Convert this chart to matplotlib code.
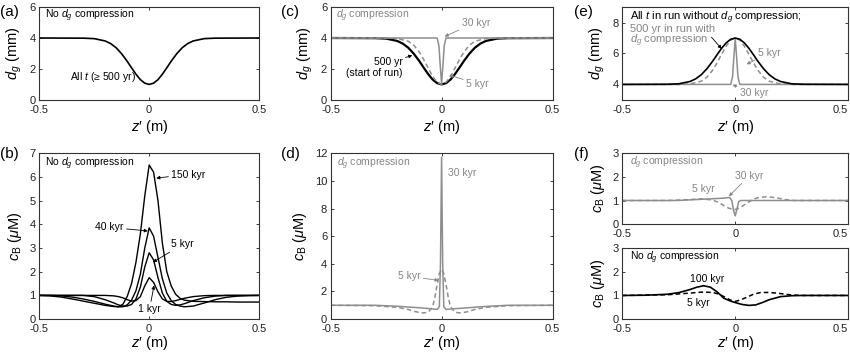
import matplotlib
matplotlib.use("Agg")
import matplotlib.pyplot as plt
import matplotlib.transforms as mtransforms

plt.rcParams['font.family'] = ['Liberation Sans', 'DejaVu Sans']
plt.rcParams['mathtext.fontset'] = 'custom'
plt.rcParams['mathtext.rm'] = 'Liberation Sans'
plt.rcParams['mathtext.it'] = 'Liberation Sans:italic'
plt.rcParams['mathtext.bf'] = 'Liberation Sans:bold'

# ---------------- data ----------------
# (a),(c): grain size profile at 500 yr (all t without compression)
z_dg = [-0.5, -0.3, -0.25, -0.2, -0.175, -0.15, -0.125, -0.1, -0.08, -0.06, -0.04, -0.02, 0.0,
        0.02, 0.04, 0.06, 0.08, 0.1, 0.125, 0.15, 0.175, 0.2, 0.25, 0.3, 0.5]
dg_500 = [4.0, 3.99, 3.96, 3.81, 3.64, 3.37, 2.98, 2.50, 2.07, 1.66, 1.31, 1.08, 1.0,
          1.08, 1.31, 1.66, 2.07, 2.50, 2.98, 3.37, 3.64, 3.81, 3.96, 3.99, 4.0]
# (c) 5 kyr with compression
z_dg5 = [-0.5, -0.25, -0.2, -0.15, -0.125, -0.1, -0.08, -0.06, -0.04, -0.02, 0.0,
         0.02, 0.04, 0.06, 0.08, 0.1, 0.125, 0.15, 0.2, 0.25, 0.5]
dg_5k = [4.0, 4.0, 3.97, 3.79, 3.53, 3.08, 2.59, 2.04, 1.52, 1.14, 1.0,
         1.14, 1.52, 2.04, 2.59, 3.08, 3.53, 3.79, 3.97, 4.0, 4.0]
# (c) 30 kyr with compression
z_dg30 = [-0.5, -0.02, -0.012, -0.006, 0.0, 0.006, 0.012, 0.02, 0.5]
dg_30k = [4.0, 4.0, 3.5, 2.2, 1.05, 2.2, 3.5, 4.0, 4.0]

# (e): profile with peak 7
e_500 = [4.0, 4.01, 4.04, 4.19, 4.36, 4.63, 5.02, 5.50, 5.93, 6.34, 6.69, 6.92, 7.0,
         6.92, 6.69, 6.34, 5.93, 5.50, 5.02, 4.63, 4.36, 4.19, 4.04, 4.01, 4.0]
e_5k = [4.0, 4.0, 4.03, 4.21, 4.47, 4.92, 5.41, 5.96, 6.48, 6.86, 7.0,
        6.86, 6.48, 5.96, 5.41, 4.92, 4.47, 4.21, 4.03, 4.0, 4.0]
e_30k = [4.0, 4.0, 4.5, 5.8, 6.95, 5.8, 4.5, 4.0, 4.0]

# (b): c_B without compression
z_b = [-0.5, -0.45, -0.4, -0.35, -0.3, -0.25, -0.2, -0.16, -0.14, -0.12, -0.1, -0.08, -0.06,
       -0.04, -0.02, 0.0, 0.02, 0.04, 0.06, 0.08, 0.1, 0.12, 0.14, 0.16, 0.2, 0.25, 0.3,
       0.35, 0.4, 0.45, 0.5]
cb_1k = [1.0, 1.0, 1.0, 1.0, 1.0, 1.0, 1.0, 0.98, 0.95, 0.9, 0.82, 0.76, 0.78,
         0.95, 1.4, 1.75, 1.55, 1.15, 0.85, 0.75, 0.74, 0.78, 0.83, 0.88, 0.95, 0.99, 1.0,
         1.0, 1.0, 1.0, 1.0]
cb_5k = [1.0, 1.0, 1.0, 1.0, 1.0, 0.95, 0.82, 0.68, 0.6, 0.55, 0.55, 0.62, 0.85,
         1.35, 2.2, 2.8, 2.5, 1.75, 1.1, 0.75, 0.62, 0.58, 0.6, 0.65, 0.78, 0.9, 0.97,
         1.0, 1.0, 1.0, 1.0]
cb_40k = [1.0, 1.0, 0.98, 0.93, 0.85, 0.75, 0.63, 0.55, 0.52, 0.52, 0.6, 0.8, 1.2,
          1.9, 3.0, 3.85, 3.5, 2.6, 1.7, 1.1, 0.78, 0.62, 0.55, 0.52, 0.55, 0.68, 0.82,
          0.92, 0.97, 0.99, 1.0]
cb_150k = [1.0, 0.98, 0.93, 0.85, 0.76, 0.67, 0.58, 0.53, 0.52, 0.62, 0.95, 1.5, 2.4,
           3.6, 5.2, 6.5, 6.2, 5.0, 3.2, 2.0, 1.4, 1.05, 0.88, 0.8, 0.75, 0.74, 0.73,
           0.73, 0.72, 0.72, 0.72]

# (d): c_B with compression
z_d30 = [-0.5, -0.3, -0.2, -0.1, -0.05, -0.02, -0.01, -0.005, 0.0, 0.005, 0.01, 0.02,
         0.05, 0.1, 0.2, 0.3, 0.5]
cd_30k = [1.0, 1.0, 0.93, 0.82, 0.75, 0.7, 0.9, 4.0, 11.7, 4.0, 0.9, 0.7,
          0.74, 0.8, 0.92, 1.0, 1.0]
z_d5 = [-0.5, -0.3, -0.2, -0.15, -0.12, -0.1, -0.08, -0.06, -0.04, -0.03, -0.02, -0.01, 0.0,
        0.01, 0.02, 0.03, 0.04, 0.06, 0.08, 0.1, 0.12, 0.15, 0.2, 0.3, 0.5]
cd_5k = [1.0, 0.97, 0.85, 0.7, 0.55, 0.48, 0.45, 0.5, 0.9, 1.6, 2.5, 3.3, 3.6,
         3.3, 2.5, 1.6, 0.9, 0.5, 0.45, 0.48, 0.55, 0.7, 0.85, 0.97, 1.0]

# (f) top: c_B with compression
z_f30 = [-0.5, -0.26, -0.15, -0.05, -0.025, -0.015, -0.008, 0.0, 0.008, 0.015, 0.025, 0.05, 0.5]
cf_30k = [1.0, 1.0, 1.05, 1.1, 1.13, 1.0, 0.6, 0.35, 0.65, 0.95, 1.0, 1.0, 1.0]
z_f5 = [-0.5, -0.3, -0.2, -0.15, -0.1, -0.07, -0.05, -0.03, -0.01, 0.0, 0.01, 0.03, 0.05,
        0.08, 0.1, 0.14, 0.18, 0.22, 0.26, 0.5]
cf_5k = [1.0, 1.0, 1.04, 1.07, 1.02, 0.9, 0.78, 0.68, 0.62, 0.62, 0.65, 0.75, 0.88,
         1.05, 1.12, 1.16, 1.12, 1.04, 1.0, 1.0]

# (f) bottom: no compression
z_g100 = [-0.5, -0.4, -0.3, -0.25, -0.2, -0.17, -0.14, -0.11, -0.08, -0.05, -0.02, 0.0,
          0.03, 0.06, 0.09, 0.12, 0.15, 0.2, 0.25, 0.3, 0.4, 0.5]
cg_100k = [1.0, 1.01, 1.05, 1.12, 1.25, 1.35, 1.41, 1.35, 1.15, 0.88, 0.76, 0.7,
           0.62, 0.58, 0.6, 0.7, 0.82, 0.95, 0.99, 1.0, 1.0, 1.0]
z_g5 = [-0.5, -0.3, -0.2, -0.15, -0.1, -0.07, -0.04, -0.02, 0.0, 0.02, 0.05, 0.08, 0.11,
        0.15, 0.2, 0.25, 0.3, 0.5]
cg_5k = [1.0, 1.03, 1.1, 1.14, 1.13, 1.05, 0.9, 0.8, 0.75, 0.8, 0.92, 1.05, 1.12,
         1.13, 1.08, 1.02, 1.0, 1.0]

xticks = [-0.5, 0, 0.5]
xticklabels = ['-0.5', '0', '0.5']

# ---------------- styling ----------------
GREY = '#8e8e8e'
GREYT = '#858585'
TFS = 7.5
LFS = 10.5
XL = "$z$\u2032 (m)"
YL_D = r"$d_g$ (mm)"
YL_C = r"$c_{\mathrm{B}}$ ($\mu$M)"

fig = plt.figure(figsize=(8.5, 3.53), dpi=100)


def style(ax, ylim, yticks, xlabel=True, lpad=0.0, edge=False):
    ax.set_xlim(-0.5, 0.5)
    ax.set_ylim(*ylim)
    ax.set_xticks(xticks)
    ax.set_xticklabels(xticklabels)
    ax.set_yticks(yticks)
    ax.set_yticklabels([str(t) for t in yticks])
    ax.tick_params(direction='in', length=2.5, width=0.6, labelsize=8, top=True, right=True,
                   colors='#222222')
    ax.tick_params(axis='x', pad=3.5)
    ax.tick_params(axis='y', pad=2.5)
    for s in ax.spines.values():
        s.set_linewidth(0.8)
        s.set_color('#333333')
    if edge:
        lab = ax.get_xticklabels()[-1]
        off = mtransforms.ScaledTranslation(-6 / 72, 0, fig.dpi_scale_trans)
        lab.set_transform(lab.get_transform() + off)
    if xlabel:
        ax.set_xlabel(XL, fontsize=LFS, labelpad=lpad)


def arrow(ax, text, xy, xytext, color='black', ha='left', va='center'):
    ax.annotate(text, xy=xy, xytext=xytext, fontsize=TFS, color=color, ha=ha, va=va,
                arrowprops=dict(arrowstyle='-|>', color=color, lw=0.6, mutation_scale=5,
                                shrinkA=0, shrinkB=0))


# (a)
ax = fig.add_axes([0.046, 0.717, 0.259, 0.263])
ax.plot(z_dg, dg_500, color='black', lw=1.2)
style(ax, (0, 6), [0, 2, 4, 6], lpad=2.5)
ax.set_ylabel(YL_D, fontsize=LFS, labelpad=4)
ax.text(-0.475, 5.45, r"No $d_g$ compression", fontsize=TFS, va='center')
ax.text(-0.36, 1.5, r"All $t$ (≥ 500 yr)", fontsize=TFS, va='center')
fig.text(0.0, 0.965, "(a)", fontsize=11, va='center')

# (c)
ax = fig.add_axes([0.389, 0.717, 0.261, 0.263])
ax.plot(z_dg, dg_500, color='black', lw=1.6)
ax.plot(z_dg5, dg_5k, color=GREY, lw=1.1, ls=(0, (3, 2)))
ax.plot(z_dg30, dg_30k, color=GREY, lw=1.1)
style(ax, (0, 6), [0, 2, 4, 6], lpad=2.5)
ax.set_ylabel(YL_D, fontsize=LFS, labelpad=4)
ax.text(-0.475, 5.45, r"$d_g$ compression", fontsize=TFS, va='center', color=GREYT)
arrow(ax, "30 kyr", (0.014, 4.1), (0.09, 5.0), color=GREYT)
arrow(ax, "500 yr\n(start of run)", (-0.132, 2.88), (-0.175, 2.1), ha='right', va='center')
arrow(ax, "5 kyr", (0.034, 1.6), (0.11, 1.05), color=GREYT)
fig.text(0.331, 0.965, "(c)", fontsize=11, va='center')

# (e)
ax = fig.add_axes([0.732, 0.717, 0.266, 0.263])
ax.plot(z_dg30, e_30k, color=GREY, lw=1.1)
ax.plot(z_dg5, e_5k, color=GREY, lw=1.1, ls=(0, (3, 2)))
ax.plot(z_dg, e_500, color='black', lw=1.2)
style(ax, (3, 9), [4, 6, 8], lpad=2.5, edge=True)
ax.set_ylabel(YL_D, fontsize=LFS, labelpad=4)
ax.text(-0.465, 8.3, r"All $t$ in run without $d_g$ compression;", fontsize=8,
        va='center')
ax.text(-0.465, 7.55, "500 yr in run with", fontsize=8, va='center', color=GREYT)
ax.text(-0.465, 6.8, r"$d_g$ compression", fontsize=8, va='center', color=GREYT)
ax.annotate("", xy=(-0.06, 6.3), xytext=(-0.105, 7.05),
            arrowprops=dict(arrowstyle='-|>', color='black', lw=0.6, mutation_scale=5,
                            shrinkA=0, shrinkB=0))
arrow(ax, "5 kyr", (0.05, 5.3), (0.1, 6.05), color=GREYT)
arrow(ax, "30 kyr", (-0.012, 3.98), (0.02, 3.45), color=GREYT)
fig.text(0.675, 0.965, "(e)", fontsize=11, va='center')

# (b)
ax = fig.add_axes([0.046, 0.096, 0.259, 0.470])
for cb in (cb_1k, cb_5k, cb_40k, cb_150k):
    ax.plot(z_b, cb, color='black', lw=1.0)
style(ax, (0, 7), [0, 1, 2, 3, 4, 5, 6, 7])
ax.set_ylabel(YL_C, fontsize=LFS, labelpad=4)
ax.text(-0.475, 6.55, r"No $d_g$ compression", fontsize=TFS, va='center')
arrow(ax, "150 kyr", (0.032, 5.95), (0.1, 6.1))
arrow(ax, "40 kyr", (-0.006, 3.72), (-0.115, 3.87), ha='right')
arrow(ax, "5 kyr", (0.017, 2.4), (0.1, 3.15))
arrow(ax, "1 kyr", (0.022, 1.42), (-0.05, 0.42), va='center')
fig.text(0.0, 0.565, "(b)", fontsize=11, va='center')

# (d)
ax = fig.add_axes([0.389, 0.096, 0.261, 0.470])
ax.plot(z_d5, cd_5k, color=GREY, lw=1.1, ls=(0, (3, 2)))
ax.plot(z_d30, cd_30k, color=GREY, lw=1.1)
style(ax, (0, 12), [0, 2, 4, 6, 8, 10, 12])
ax.set_ylabel(YL_C, fontsize=LFS, labelpad=4)
ax.text(-0.47, 11.2, r"$d_g$ compression", fontsize=TFS, va='center', color=GREYT)
ax.text(0.03, 10.55, "30 kyr", fontsize=TFS, va='center', color=GREYT)
arrow(ax, "5 kyr", (-0.013, 2.8), (-0.095, 3.1), color=GREYT, ha='right')
fig.text(0.331, 0.565, "(d)", fontsize=11, va='center')

# (f) top
ax = fig.add_axes([0.732, 0.365, 0.266, 0.201])
ax.plot(z_f5, cf_5k, color=GREY, lw=1.1, ls=(0, (3, 2)))
ax.plot(z_f30, cf_30k, color=GREY, lw=1.1)
style(ax, (0, 3), [0, 1, 2, 3], xlabel=False, edge=True)
ax.set_ylabel(YL_C, fontsize=LFS, labelpad=4)
ax.text(-0.465, 2.6, r"$d_g$ compression", fontsize=TFS, va='center', color=GREYT)
ax.text(-0.19, 1.5, "5 kyr", fontsize=TFS, va='center', color=GREYT)
arrow(ax, "30 kyr", (-0.028, 1.18), (0.0, 2.05), color=GREYT)
fig.text(0.675, 0.565, "(f)", fontsize=11, va='center')

# (f) bottom
ax = fig.add_axes([0.732, 0.096, 0.266, 0.201])
ax.plot(z_g5, cg_5k, color='black', lw=1.1, ls=(0, (3, 2)))
ax.plot(z_g100, cg_100k, color='black', lw=1.2)
style(ax, (0, 3), [0, 1, 2, 3], edge=True)
ax.set_ylabel(YL_C, fontsize=LFS, labelpad=4)
ax.text(-0.465, 2.6, r"No $d_g$ compression", fontsize=TFS, va='center')
ax.text(-0.2, 1.68, "100 kyr", fontsize=TFS, va='center')
ax.text(-0.215, 0.7, "5 kyr", fontsize=TFS, va='center')

fig.savefig("out.png", dpi=100)
